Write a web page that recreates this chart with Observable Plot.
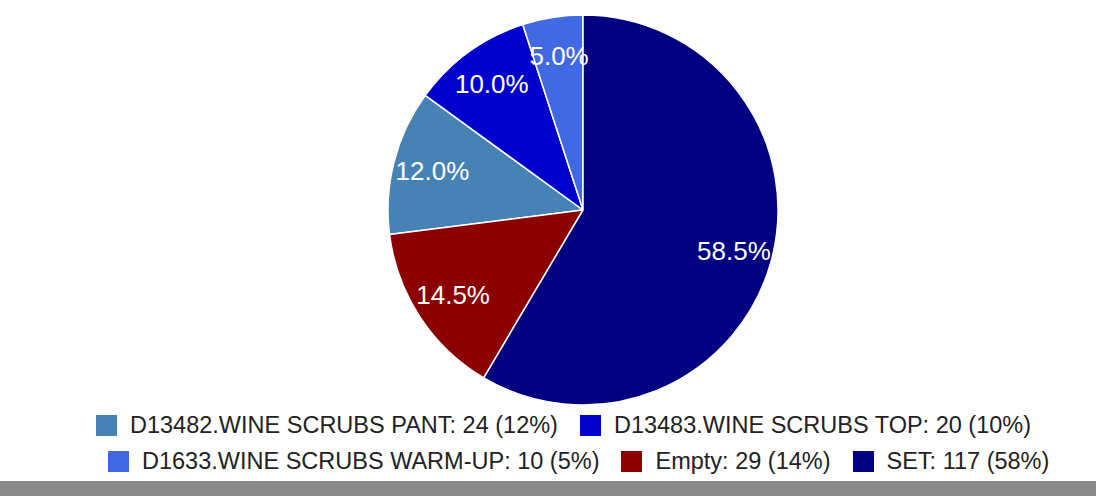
<!DOCTYPE html>
<html><head><meta charset="utf-8">
<script src="https://cdn.jsdelivr.net/npm/d3@7"></script>
<script src="https://cdn.jsdelivr.net/npm/@observablehq/plot@0.6"></script>
<style>
body{margin:0;background:#fff;font-family:"Liberation Sans",Arial,sans-serif;width:1096px;height:496px;overflow:hidden;position:relative}
#chart{position:absolute;left:0;top:0}
.row{position:absolute;display:flex;align-items:center;font-size:23.5px;color:#222;white-space:nowrap;height:21px}
.item{display:flex;align-items:center;margin-right:22px}
.sw{width:21px;height:21px;margin-right:13px;flex:none}
#bar{position:absolute;left:0;top:481px;width:1096px;height:15px;background:#8a8a8a}
</style></head><body>
<div id="chart"></div>
<div id="legend"></div>
<div id="bar"></div>
<script>
const categories = ["D13482.WINE SCRUBS PANT","D13483.WINE SCRUBS TOP","D1633.WINE SCRUBS WARM-UP","Empty","SET"];
const counts = [24, 20, 10, 29, 117];
const colors = ["#4682b4", "#0000cd", "#4169e1", "#8b0000", "#000080"];
const legendRows = [[0, 1], [2, 3, 4]];

const total = d3.sum(counts);
const data = categories.map((c, i) => ({category: c, value: counts[i], color: colors[i]}));
const arcs = d3.pie().value(d => d.value)(data); // default sort: descending
const labels = arcs.map(a => {
  const mid = (a.startAngle + a.endAngle) / 2;
  return {x: 0.8 * Math.sin(mid), y: 0.8 * Math.cos(mid), text: (a.data.value / total * 100).toFixed(1) + "%"};
});

const pie = (index, scales) => {
  const cx = scales.x(0), cy = scales.y(0), r = scales.x(1) - scales.x(0);
  const arc = d3.arc().innerRadius(0).outerRadius(r);
  const g = d3.create("svg:g").attr("transform", `translate(${cx},${cy})`);
  g.selectAll("path").data(arcs).join("path")
    .attr("d", arc)
    .attr("fill", d => d.data.color)
    .attr("stroke", "#fff")
    .attr("stroke-width", 1.5)
    .attr("stroke-linejoin", "round");
  return g.node();
};

const chart = Plot.plot({
  width: 1096, height: 408,
  marginLeft: 388, marginRight: 318, marginTop: 15, marginBottom: 3,
  x: {domain: [-1, 1], axis: null},
  y: {domain: [-1, 1], axis: null},
  style: {fontFamily: "'Liberation Sans', Arial, sans-serif", background: "#fff"},
  marks: [
    pie,
    Plot.text(labels, {x: "x", y: "y", text: "text", fill: "#fff", fontSize: 26})
  ]
});
document.getElementById("chart").append(chart);

const legend = document.getElementById("legend");
const rowPos = [{left: 96, top: 415}, {left: 108, top: 451}];
legendRows.forEach((row, ri) => {
  const div = document.createElement("div");
  div.className = "row";
  div.style.left = rowPos[ri].left + "px";
  div.style.top = rowPos[ri].top + "px";
  row.forEach(i => {
    const it = document.createElement("div");
    it.className = "item";
    const sw = document.createElement("div");
    sw.className = "sw";
    sw.style.background = colors[i];
    const t = document.createElement("span");
    t.textContent = `${categories[i]}: ${counts[i]} (${Math.floor(counts[i] / total * 100)}%)`;
    it.append(sw, t);
    div.append(it);
  });
  legend.append(div);
});
</script>
</body></html>
